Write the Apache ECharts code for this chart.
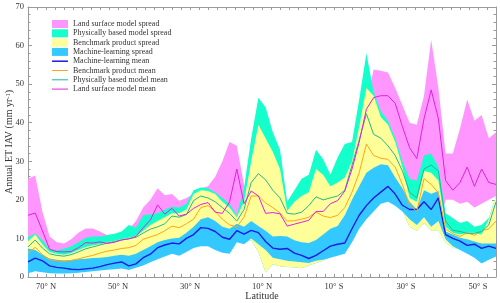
<!DOCTYPE html>
<html><head><meta charset="utf-8">
<script src="https://cdn.jsdelivr.net/npm/echarts@6/dist/echarts.min.js"></script>
<style>html,body{margin:0;padding:0;background:#fff}#c{width:500px;height:303px}</style>
</head><body><div id="c"></div>
<script>
const latitudes = [75,73,71,69,67,65,63,61,59,57,55,53,51,49,47,45,43,41,39,37,35,33,31,29,27,25,23,21,19,17,15,13,11,9,7,5,3,1,-1,-3,-5,-7,-9,-11,-13,-15,-17,-19,-21,-23,-25,-27,-29,-31,-33,-35,-37,-39,-41,-43,-45,-47,-49,-51,-53,-55];

const lsmSpreadTop = [25.5,26.3,17.0,10.5,9.0,8.7,9.8,11.5,12.6,12.6, 11.8,10.8,11.0,11.5,12.5,14.5,18.0,20.0,23.0,21.2, 21.5,19.8,20.5,21.5,23.0,23.5,26.0,30.0,35.0,34.0, 24.0,20.0,20.0,19.0,18.0,18.0,16.0,16.0,16.0,16.5, 18.0,18.0,18.0,19.0,21.0,27.0,36.0,45.0,53.8,53.5, 53.0,49.0,44.5,40.0,39.5,47.0,61.5,49.0,32.0,32.0, 38.5,46.0,40.5,42.0,36.0,37.5];
const lsmSpreadBottom = [1.3,1.8,1.5,1.3,1.2,1.2,1.3,1.4,1.6,1.8, 2.0,2.2,2.3,2.5,2.1,2.7,3.3,4.1,4.9,5.6, 6.3,5.8,6.8,7.8,8.3,8.3,7.3,6.6,6.3,9.3, 8.8,9.6,6.5,1.2,3.3,2.8,2.6,2.5,2.3,3.0, 3.6,4.2,5.3,5.8,6.3,9.3,12.8,15.3,17.3,19.3, 19.8,18.8,17.3,13.0,12.0,14.0,12.0,12.0,20.0,20.0, 19.0,19.5,18.0,19.0,20.0,21.0];
const pbSpreadTop = [10.3,11.3,9.5,7.2,7.0,7.3,8.0,9.0,10.2,10.5, 10.5,10.9,11.2,11.8,13.5,12.8,16.0,16.3,16.5,17.5, 18.2,18.0,19.0,22.5,23.2,23.0,22.0,20.5,19.0,16.0, 23.0,36.0,46.5,44.0,37.5,33.0,19.5,22.5,25.5,26.5, 33.0,30.5,26.5,31.0,34.5,35.0,46.0,58.0,48.0,43.0, 40.5,36.0,30.0,25.5,25.0,31.5,32.0,28.5,16.5,15.3, 14.0,14.5,13.0,13.5,15.3,21.0];
const pbSpreadBottom = [1.3,1.8,1.5,1.3,1.2,1.2,1.3,1.4,1.6,1.8, 2.0,2.2,2.3,2.5,2.1,2.7,3.3,4.1,4.9,5.6, 6.3,5.8,6.8,7.8,8.3,8.3,7.3,6.6,6.3,9.3, 8.8,9.6,6.5,1.2,3.3,2.8,2.6,2.5,2.3,3.0, 3.6,4.2,5.3,5.8,6.3,9.3,12.8,15.3,17.3,19.3, 19.8,18.8,17.3,13.0,12.0,14.0,12.0,12.0,9.0,7.5, 7.3,6.3,5.3,3.8,4.8,5.6];
const benchSpreadTop = [9.3,11.0,8.5,6.5,6.0,5.8,6.2,7.0,7.8,8.2, 8.5,9.0,9.4,9.8,10.2,10.6,12.0,13.5,14.5,15.5, 16.5,16.5,17.5,21.5,22.5,22.3,21.5,19.5,18.0,15.5, 19.5,30.0,39.5,36.0,32.5,28.0,17.2,19.5,21.0,22.0, 28.0,26.5,23.5,24.5,25.8,30.0,39.0,49.0,47.0,41.5, 39.5,35.0,28.5,20.5,19.5,27.5,27.0,25.0,13.0,11.5, 11.0,11.5,11.5,11.0,15.0,21.0];
const benchSpreadBottom = [1.3,1.8,1.5,1.3,1.2,1.2,1.3,1.4,1.6,1.8, 2.0,2.2,2.3,2.5,2.1,2.7,3.3,4.1,4.9,5.6, 6.3,5.8,6.8,7.8,8.3,8.3,7.3,6.6,6.3,9.3, 8.8,9.6,6.5,1.2,3.3,2.8,2.6,2.5,2.3,3.0, 3.6,4.2,5.3,5.8,6.3,9.3,12.8,15.3,17.3,19.3, 19.8,18.8,17.3,13.0,12.0,14.0,12.0,12.0,9.0,7.5, 7.3,6.3,5.3,3.8,4.8,5.6];
const mlSpreadTop = [7.4,7.0,5.8,4.8,4.5,4.3,4.4,4.6,4.7,4.9, 5.0,5.2,5.5,5.8,5.5,6.0,7.0,8.0,9.0,9.6, 10.0,10.2,11.5,13.0,15.0,15.5,14.5,13.0,12.5,13.8, 13.0,14.5,13.2,12.0,10.5,10.6,10.5,9.5,9.0,8.8, 9.6,11.0,12.5,13.2,16.0,20.0,23.5,27.0,28.3,29.2, 29.0,25.8,23.0,19.5,17.5,22.5,21.6,22.3,11.8,11.0, 10.2,9.8,9.2,8.7,8.7,8.7];
const mlSpreadBottom = [1.0,1.5,1.2,1.0,0.9,0.9,1.0,1.1,1.3,1.5, 1.7,1.9,2.0,2.2,1.8,2.4,3.0,3.8,4.6,5.3, 6.0,5.5,6.5,7.5,8.0,8.0,7.0,6.3,6.0,9.0, 8.5,10.0,8.5,7.0,5.0,4.6,4.2,4.0,3.8,3.6, 4.2,4.5,5.0,5.5,6.0,9.0,12.5,15.0,17.0,19.0, 19.5,18.5,17.0,15.0,13.5,15.5,13.0,14.5,9.8,8.0, 7.0,6.0,5.0,3.5,4.5,5.3];

const mlMean = [3.9,4.9,4.2,2.9,2.5,2.3,2.0,1.9,2.1,2.3, 2.7,3.2,3.6,3.9,2.9,3.4,5.0,5.9,7.6,8.3, 8.8,8.6,10.0,11.0,12.8,12.6,11.8,10.3,9.8,12.0, 11.1,12.1,11.5,9.2,7.5,7.2,7.4,6.2,5.6,4.8, 5.6,6.8,8.0,8.5,8.8,12.5,16.0,18.5,20.5,22.0, 23.5,21.5,18.6,17.5,17.5,19.5,17.5,20.5,11.0,10.0, 9.3,8.2,8.5,7.4,8.0,7.4];
const benchMean = [6.2,7.7,5.8,4.5,4.2,4.1,4.3,4.7,5.2,5.6, 6.2,6.7,7.0,7.4,7.6,8.2,9.8,10.4,11.0,12.0, 13.2,12.8,13.8,15.0,18.0,18.5,17.0,15.0,13.5,13.0, 15.5,21.0,21.0,19.2,18.0,16.6,14.5,14.6,15.0,15.5, 16.8,15.8,15.4,16.0,18.0,22.0,27.0,34.5,31.5,30.8, 30.5,28.5,24.0,18.6,17.0,25.5,24.0,21.8,12.5,11.2, 10.5,11.5,10.8,12.0,12.5,14.5];
const pbMean = [7.8,9.6,7.5,6.0,5.6,5.4,5.8,6.5,7.3,7.8, 8.3,8.8,9.2,9.6,9.9,10.3,11.4,12.4,13.0,13.8, 15.8,15.5,16.2,19.8,21.0,20.5,19.5,18.0,16.5,14.5, 17.5,24.5,26.8,25.2,22.5,20.5,16.5,16.3,16.8,18.5, 20.8,20.0,20.5,21.0,22.5,29.0,35.5,42.3,37.0,36.0, 34.0,31.5,27.5,22.0,20.5,28.0,29.0,27.5,14.5,12.1, 11.8,11.3,11.3,11.8,13.5,19.5];
const lsmMean = [16.0,16.6,12.0,7.2,6.6,6.5,6.6,7.6,8.9,8.8, 9.1,8.7,9.0,9.6,9.9,10.5,12.8,14.8,18.7,16.3, 17.8,15.8,16.3,17.8,18.8,19.3,16.8,16.5,19.5,28.0, 19.0,22.3,21.0,16.5,16.7,16.4,13.2,13.7,14.2,14.7, 17.0,17.0,19.0,19.8,22.3,28.0,35.0,43.5,46.5,47.0, 47.0,45.0,39.0,33.5,30.7,41.0,48.5,41.0,25.0,22.5, 24.5,28.5,23.5,28.0,24.5,24.0];

const xLabelValues = [70,50,30,10,-10,-30,-50];

const FONT = 'Liberation Serif';
const C = {
  lsmSpread: '#ff96ff', pbSpread: '#14ffcc', benchSpread: '#ffff99', mlSpread: '#33c8ff',
  mlMean: '#1a1ae0', benchMean: '#ffa41a', pbMean: '#22b890', lsmMean: '#e21ee2'
};

function bandSeries(name, lower, upper, color) {
  return {
    type: 'custom', name: name, silent: true,
    itemStyle: { color: color },
    data: [[latitudes[0], upper[0]]],
    renderItem: function (params, api) {
      const pts = [];
      for (let i = 0; i < latitudes.length; i++) pts.push(api.coord([latitudes[i], upper[i]]));
      for (let i = latitudes.length - 1; i >= 0; i--) pts.push(api.coord([latitudes[i], lower[i]]));
      return { type: 'polygon', shape: { points: pts }, style: { fill: color } };
    }
  };
}
function lineSeries(name, vals, color, w) {
  return {
    type: 'line', name: name, silent: true, symbol: 'none', showSymbol: false,
    itemStyle: { color: color },
    lineStyle: { color: color, width: w },
    data: latitudes.map((l, i) => [l, vals[i]])
  };
}

const axisGray = '#9a9a9a';
function xAx(pos, labels) {
  return {
    type: 'value', position: pos, min: -55, max: 75, interval: 2.5, inverse: true,
    axisLine: { show: true, onZero: false, lineStyle: { color: axisGray, width: 1 } },
    axisTick: { show: true, inside: true, length: 3, lineStyle: { color: axisGray } },
    splitLine: { show: false },
    axisLabel: labels ? {
      show: true, margin: 5, fontFamily: FONT, fontSize: 8.5, color: '#333',
      formatter: function (v) {
        if (xLabelValues.indexOf(v) < 0) return '';
        return v > 0 ? v + '° N' : (-v) + '° S';
      }
    } : { show: false },
    name: labels ? 'Latitude' : '', nameLocation: 'middle', nameGap: 14, nameMoveOverlap: false,
    nameTextStyle: { fontFamily: FONT, fontSize: 10, color: '#333' }
  };
}
function yAx(pos, labels) {
  return {
    type: 'value', position: pos, min: 0, max: 70, interval: 10,
    axisLine: { show: true, onZero: false, lineStyle: { color: axisGray, width: 1 } },
    axisTick: { show: true, inside: true, length: 4, lineStyle: { color: axisGray } },
    minorTick: { show: true, splitNumber: 5, length: 2.5, lineStyle: { color: axisGray } },
    splitLine: { show: false }, minorSplitLine: { show: false },
    axisLabel: labels ? { show: true, margin: 4, fontFamily: FONT, fontSize: 8.5, color: '#333' } : { show: false },
    name: labels ? 'Annual ET IAV (mm yr{sup|-1})' : '', nameLocation: 'middle', nameGap: 13.5, nameRotate: 90,
    nameMoveOverlap: false,
    nameTextStyle: { fontFamily: FONT, fontSize: 10, color: '#333',
      rich: { sup: { fontFamily: FONT, fontSize: 6.5, color: '#333', verticalAlign: 'top' } } }
  };
}

const lineIcon = 'path://M0,0L16,0L16,1L0,1Z';
const thickLineIcon = 'path://M0,0L16,0L16,1.5L0,1.5Z';

const chart = echarts.init(document.getElementById('c'), null, { renderer: 'canvas' });
chart.setOption({
  animation: false,
  backgroundColor: '#fff',
  grid: { left: 28, right: 4, top: 7, bottom: 26, containLabel: false, outerBoundsMode: 'none' },
  xAxis: [xAx('bottom', true), xAx('top', false)],
  yAxis: [yAx('left', true), yAx('right', false)],
  legend: {
    orient: 'vertical', left: 47, top: 15, itemWidth: 16, itemHeight: 8, itemGap: 1.3,
    selectedMode: false, symbolKeepAspect: true,
    textStyle: { fontFamily: FONT, fontSize: 8, color: '#333', lineHeight: 8 },
    data: [
      { name: 'Land surface model spread', icon: 'rect', itemStyle: { color: C.lsmSpread } },
      { name: 'Physically based model spread', icon: 'rect', itemStyle: { color: C.pbSpread } },
      { name: 'Benchmark product spread', icon: 'rect', itemStyle: { color: C.benchSpread } },
      { name: 'Machine-learning spread', icon: 'rect', itemStyle: { color: C.mlSpread } },
      { name: 'Machine-learning mean', icon: thickLineIcon, itemStyle: { color: C.mlMean } },
      { name: 'Benchmark product mean', icon: lineIcon, itemStyle: { color: C.benchMean } },
      { name: 'Physically based model mean', icon: lineIcon, itemStyle: { color: C.pbMean } },
      { name: 'Land surface model mean', icon: lineIcon, itemStyle: { color: C.lsmMean } }
    ]
  },
  series: [
    bandSeries('Land surface model spread', lsmSpreadBottom, lsmSpreadTop, C.lsmSpread),
    bandSeries('Physically based model spread', pbSpreadBottom, pbSpreadTop, C.pbSpread),
    bandSeries('Benchmark product spread', benchSpreadBottom, benchSpreadTop, C.benchSpread),
    bandSeries('Machine-learning spread', mlSpreadBottom, mlSpreadTop, C.mlSpread),
    lineSeries('Machine-learning mean', mlMean, C.mlMean, 1.4),
    lineSeries('Benchmark product mean', benchMean, C.benchMean, 1),
    lineSeries('Physically based model mean', pbMean, C.pbMean, 1),
    lineSeries('Land surface model mean', lsmMean, C.lsmMean, 1)
  ]
});
</script></body></html>
